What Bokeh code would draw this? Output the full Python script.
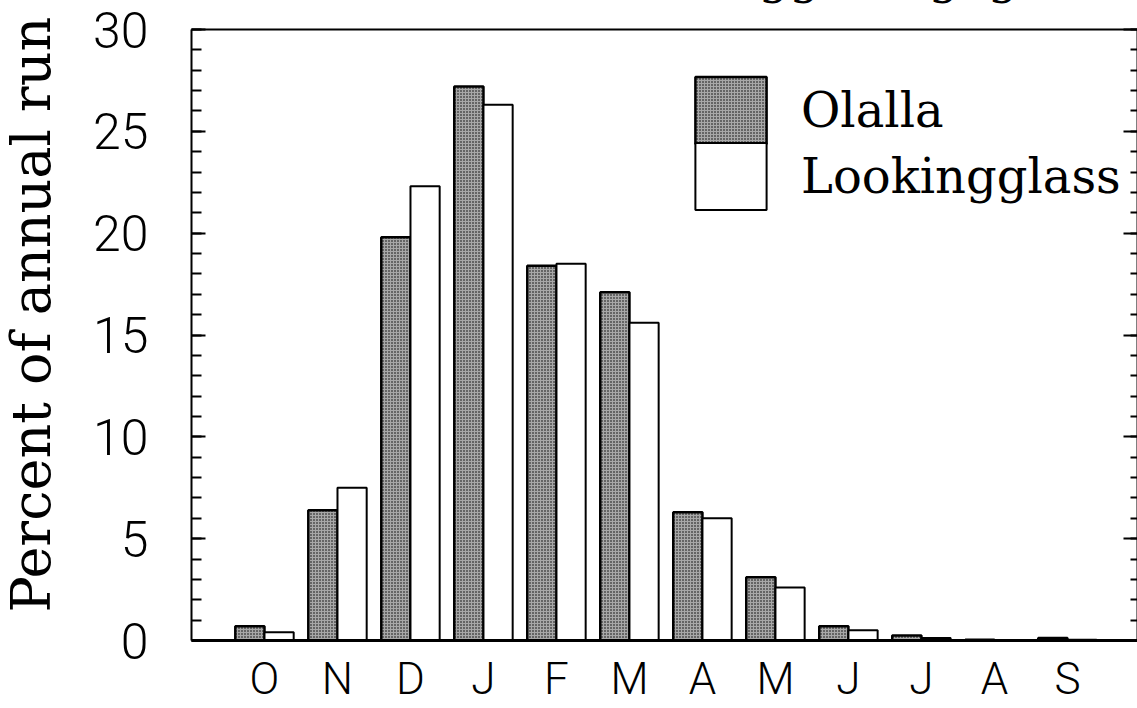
import numpy as np
from bokeh.plotting import figure
from bokeh.models import (LinearAxis, FixedTicker, Legend, LegendItem, Title,
                          Range1d, ColumnDataSource)
from bokeh.embed import file_html
from bokeh.resources import INLINE

# ---- data ----
months = ["O", "N", "D", "J", "F", "M", "A", "M", "J", "J", "A", "S"]
olalla = [0.7, 6.4, 19.8, 27.2, 18.4, 17.1, 6.3, 3.1, 0.7, 0.25, 0.04, 0.12]
lookingglass = [0.4, 7.5, 22.3, 26.3, 18.5, 15.6, 6.0, 2.6, 0.5, 0.12, 0.03, 0.04]
y_ticks = [0, 5, 10, 15, 20, 25, 30]
y_minor = list(range(0, 31))
legend_labels = ["Olalla", "Lookingglass"]
title_text = "for Olalla and Lookingglass gages."
y_label = "Percent of annual run"

pos = np.arange(1, len(months) + 1)

SANS = "Roboto Light"
SERIF = "DejaVu Serif"
T = 85  # part of the canvas that sits above the window (the cut-off title)

p = figure(width=1137, height=708 + T, x_range=Range1d(0, 12.96), y_range=Range1d(0, 30),
           output_backend="svg", toolbar_location=None,
           x_axis_location=None, y_axis_location=None,
           min_border_left=191, min_border_right=0, min_border_top=29 + T,
           min_border_bottom=68, styles={"margin-top": f"-{T}px"})
p.grid.visible = False
p.outline_line_color = None
p.background_fill_color = "white"
p.border_fill_color = "white"

# left axis
yax = LinearAxis(ticker=FixedTicker(ticks=y_ticks, minor_ticks=y_minor))
yax.axis_line_width = 2
yax.major_tick_in = 14
yax.major_tick_out = 0
yax.minor_tick_in = 10
yax.minor_tick_out = 0
yax.major_tick_line_width = 2
yax.minor_tick_line_width = 2
yax.major_label_text_font = SANS
yax.major_label_text_font_size = "50px"
yax.major_label_text_color = "black"
yax.major_label_standoff = 43
yax.axis_label = " "
yax.axis_label_standoff = 20
yax.axis_label_text_font_size = "12px"
p.add_layout(yax, "left")

# right frame side: minor ticks and longer major ticks, no labels
rax = LinearAxis(ticker=FixedTicker(ticks=[], minor_ticks=y_minor))
rax.axis_line_width = 2
rax.minor_tick_in = 7
rax.minor_tick_out = 0
rax.minor_tick_line_width = 2
p.add_layout(rax, "right")
rax2 = LinearAxis(ticker=FixedTicker(ticks=[], minor_ticks=y_ticks))
rax2.axis_line_color = None
rax2.minor_tick_in = 14
rax2.minor_tick_out = 0
rax2.minor_tick_line_width = 2
p.add_layout(rax2, "right")

# bottom axis
xax = LinearAxis(ticker=FixedTicker(ticks=[int(v) for v in pos]),
                 major_label_overrides={int(v): m for v, m in zip(pos, months)})
xax.axis_line_width = 3
xax.major_tick_in = 0
xax.major_tick_out = 0
xax.minor_tick_in = 0
xax.minor_tick_out = 0
xax.major_label_text_font = SANS
xax.major_label_text_font_size = "44px"
xax.major_label_text_color = "black"
xax.major_label_standoff = 12
p.add_layout(xax, "below")

# top axis (frame line only)
tax = LinearAxis(ticker=FixedTicker(ticks=[]))
tax.axis_line_width = 2
tax.minor_tick_in = 0
tax.minor_tick_out = 0
p.add_layout(tax, "above")

src = ColumnDataSource(dict(x_o=pos - 0.2, x_l=pos + 0.2, olalla=olalla, look=lookingglass))
r1 = p.vbar(x="x_o", top="olalla", width=0.4, source=src,
            fill_color="#a8a8a8", hatch_pattern="dot", hatch_color="black",
            hatch_scale=3, hatch_weight=1.5, line_color="black", line_width=2.5)
r2 = p.vbar(x="x_l", top="look", width=0.4, source=src,
            fill_color="white", line_color="black", line_width=2)

leg_style = dict(glyph_width=89, glyph_height=84, label_height=84, spacing=0,
                 padding=0, margin=0, label_standoff=26, border_line_color=None,
                 background_fill_alpha=0, label_text_font=SERIF,
                 label_text_font_size="48px", label_text_color="black")
leg1 = Legend(items=[LegendItem(label=legend_labels[0], renderers=[r1])],
              location=(495, 488), **leg_style)
leg2 = Legend(items=[LegendItem(label=legend_labels[1], renderers=[r2])],
              location=(495, 422), **leg_style)
p.add_layout(leg1)
p.add_layout(leg2)

# y-axis title (left panel) and plot title (above, mostly outside the window)
p.add_layout(Title(text=y_label, align="left", offset=28, standoff=-19,
                   vertical_align="bottom", text_font=SERIF, text_font_size="54px",
                   text_font_style="normal", text_color="black"), "left")
p.add_layout(Title(text=title_text, align="left", offset=54, standoff=52,
                   vertical_align="bottom", text_font=SERIF, text_font_size="48px",
                   text_font_style="normal", text_color="black"), "above")

open("out.html", "w").write(file_html(p, INLINE))
